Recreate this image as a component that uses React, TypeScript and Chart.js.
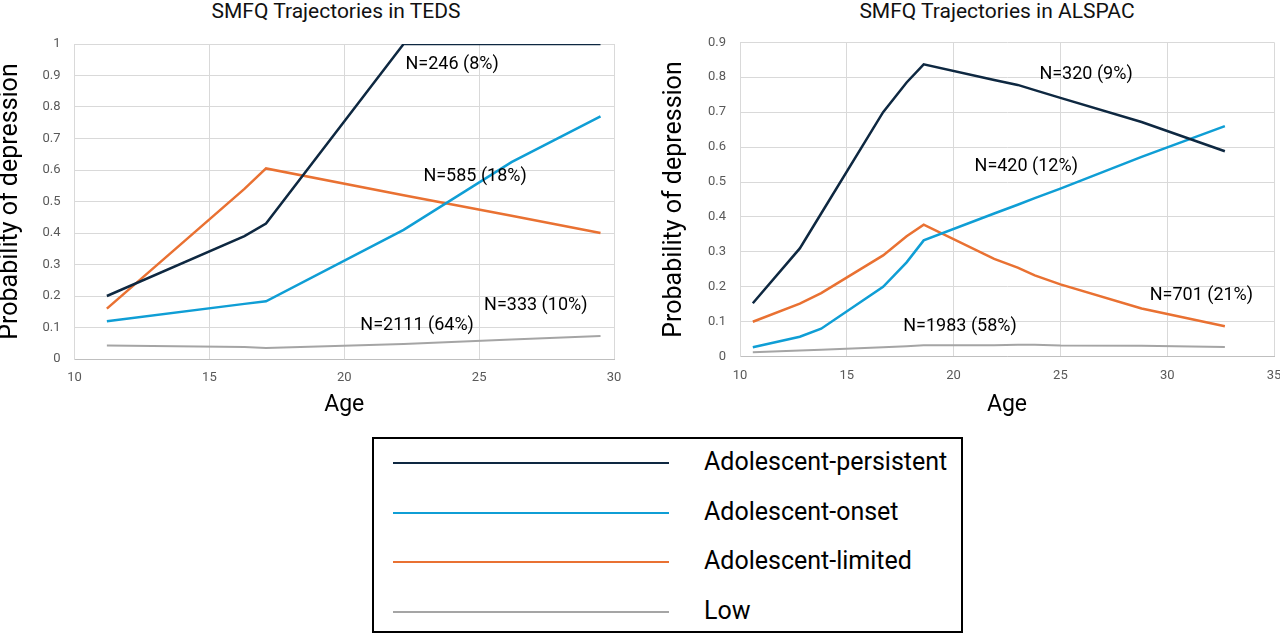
import { useEffect, useRef } from 'react';
import { Chart, registerables } from 'chart.js';

Chart.register(...registerables);

const FONT = 'Roboto, "Noto Sans", sans-serif';

const seriesNames = ['Adolescent-persistent', 'Adolescent-onset', 'Adolescent-limited', 'Low'];
const seriesColors = ['#0e2841', '#0f9ed5', '#e97132', '#a5a5a5'];

// TEDS
const tedsAges = [11.2, 16.3, 17.1, 22.2, 26.2, 29.5];
const tedsPersistent = [0.2, 0.39, 0.43, 1.0, 1.0, 1.0];
const tedsOnset = [0.12, 0.175, 0.183, 0.41, 0.625, 0.77];
const tedsLimited = [0.16, 0.54, 0.605, 0.52, 0.455, 0.4];
const tedsLow = [0.043, 0.038, 0.035, 0.048, 0.062, 0.073];
const tedsNotes = ['N=246 (8%)', 'N=585 (18%)', 'N=333 (10%)', 'N=2111 (64%)'];
const tedsNoteAge = [24.0, 24.85, 27.1, 22.7];
const tedsNoteProb = [0.935, 0.58, 0.17, 0.105];

// ALSPAC
const alspacAges = [10.6, 12.8, 13.8, 16.7, 17.8, 18.6, 21.9, 23.0, 23.8, 25.0, 28.8, 32.7];
const alspacPersistent = [0.153, 0.31, 0.41, 0.7, 0.785, 0.837, 0.792, 0.778, 0.763, 0.741, 0.672, 0.588];
const alspacOnset = [0.027, 0.057, 0.08, 0.2, 0.27, 0.333, 0.41, 0.435, 0.454, 0.481, 0.572, 0.66];
const alspacLimited = [0.1, 0.152, 0.182, 0.29, 0.345, 0.378, 0.28, 0.255, 0.233, 0.207, 0.138, 0.087];
const alspacLow = [0.013, 0.018, 0.02, 0.027, 0.03, 0.033, 0.033, 0.034, 0.034, 0.032, 0.031, 0.028];
const alspacNotes = ['N=320 (9%)', 'N=420 (12%)', 'N=701 (21%)', 'N=1983 (58%)'];
const alspacNoteAge = [26.2, 23.4, 31.6, 20.3];
const alspacNoteProb = [0.808, 0.544, 0.175, 0.086];

type Props = {
  title: string;
  titleCenter: number;
  ages: number[];
  series: number[][];
  notes: string[];
  noteAge: number[];
  noteProb: number[];
  xMax: number;
  yMax: number;
  left: number;
  width: number;
  plotTop: number;
  plotBottom: number;
  yAxisWidth: number;
  yTitlePad: number;
  padRight: number;
};

const HEIGHT = 430;

function TrajectoryChart(p: Props) {
  const ref = useRef<HTMLCanvasElement>(null);

  useEffect(() => {
    if (!ref.current) return;
    const notesPlugin = {
      id: 'notes',
      afterDatasetsDraw(chart: Chart) {
        const { ctx } = chart;
        const x = chart.scales.x;
        const y = chart.scales.y;
        ctx.save();
        ctx.font = `18px ${FONT}`;
        ctx.fillStyle = '#000';
        ctx.textAlign = 'center';
        ctx.textBaseline = 'middle';
        p.notes.forEach((t, i) => {
          ctx.fillText(t, x.getPixelForValue(p.noteAge[i]), y.getPixelForValue(p.noteProb[i]));
        });
        ctx.restore();
      },
    };

    const chart = new Chart(ref.current, {
      type: 'line',
      data: {
        datasets: p.series.map((vals, i) => ({
          label: seriesNames[i],
          data: vals.map((v, j) => ({ x: p.ages[j], y: v })),
          borderColor: seriesColors[i],
          backgroundColor: seriesColors[i],
          borderWidth: i === 3 ? 2 : 2.5,
          pointRadius: 0,
          tension: 0,
        })),
      },
      options: {
        responsive: true,
        maintainAspectRatio: false,
        animation: false,
        layout: { padding: { left: 0, right: p.padRight, top: p.plotTop, bottom: 0 } },
        plugins: {
          legend: { display: false },
          tooltip: { enabled: false },
          title: { display: false },
        },
        scales: {
          x: {
            type: 'linear',
            min: 10,
            max: p.xMax,
            afterFit: (s: any) => { s.height = HEIGHT - p.plotBottom; },
            ticks: { stepSize: 5, color: '#595959', font: { family: FONT, size: 13 }, padding: 11 },
            grid: { color: '#d9d9d9', drawTicks: false },
            border: { color: '#bfbfbf' },
            title: {
              display: true,
              text: 'Age',
              color: '#000',
              font: { family: FONT, size: 23, lineHeight: 1.2 },
              padding: { top: 0, bottom: 11 },
            },
          },
          y: {
            min: 0,
            max: p.yMax,
            afterFit: (s: any) => { s.width = p.yAxisWidth; },
            ticks: {
              stepSize: 0.1,
              color: '#595959',
              font: { family: FONT, size: 13 },
              padding: 14,
              callback: (v: any) => String(Number(Number(v).toFixed(1))),
            },
            grid: { color: '#d9d9d9', drawTicks: false },
            border: { color: '#d9d9d9' },
            title: {
              display: true,
              text: 'Probability of depression',
              color: '#000',
              font: { family: FONT, size: 25, lineHeight: 0.85 },
              padding: { top: p.yTitlePad, bottom: 0 },
            },
          },
        },
      },
      plugins: [notesPlugin],
    });
    return () => { chart.destroy(); };
  }, [p]);

  return (
    <>
      <div
        style={{
          position: 'absolute', left: p.titleCenter - 200, top: 0, width: 400, textAlign: 'center',
          fontFamily: FONT, fontSize: 21, lineHeight: '22px', color: '#111', whiteSpace: 'nowrap',
        }}
      >
        {p.title}
      </div>
      <div style={{ position: 'absolute', left: p.left, top: 0, width: p.width, height: HEIGHT }}>
        <canvas ref={ref} />
      </div>
    </>
  );
}

const tedsProps: Props = {
  title: 'SMFQ Trajectories in TEDS',
  titleCenter: 336,
  ages: tedsAges,
  series: [tedsPersistent, tedsOnset, tedsLimited, tedsLow],
  notes: tedsNotes,
  noteAge: tedsNoteAge,
  noteProb: tedsNoteProb,
  xMax: 30,
  yMax: 1,
  left: 0,
  width: 672,
  plotTop: 44,
  plotBottom: 359,
  yAxisWidth: 74.5,
  yTitlePad: 0,
  padRight: 58,
};

const alspacProps: Props = {
  title: 'SMFQ Trajectories in ALSPAC',
  titleCenter: 997,
  ages: alspacAges,
  series: [alspacPersistent, alspacOnset, alspacLimited, alspacLow],
  notes: alspacNotes,
  noteAge: alspacNoteAge,
  noteProb: alspacNoteProb,
  xMax: 35,
  yMax: 0.9,
  left: 640,
  width: 714,
  plotTop: 42.3,
  plotBottom: 356.7,
  yAxisWidth: 100,
  yTitlePad: 24,
  padRight: 80,
};

function Legend() {
  return (
    <div
      style={{
        position: 'absolute', left: 372, top: 437, width: 587, height: 192,
        border: '2px solid #000', fontFamily: FONT, fontSize: 25, color: '#000',
      }}
    >
      {seriesNames.map((name, i) => (
        <div key={name} style={{ position: 'absolute', left: 0, top: 24 + i * 49.5 - 12, height: 24, width: '100%' }}>
          <div style={{ position: 'absolute', left: 19, top: 11, width: 276, height: 2, background: seriesColors[i] }} />
          <div style={{ position: 'absolute', left: 330, top: -3, lineHeight: '28px', whiteSpace: 'nowrap' }}>{name}</div>
        </div>
      ))}
    </div>
  );
}

export default function App() {
  return (
    <div style={{ position: 'fixed', left: 0, top: 0, width: 1280, height: 635, overflow: 'hidden', background: '#fff' }}>
      <TrajectoryChart {...tedsProps} />
      <TrajectoryChart {...alspacProps} />
      <Legend />
    </div>
  );
}
